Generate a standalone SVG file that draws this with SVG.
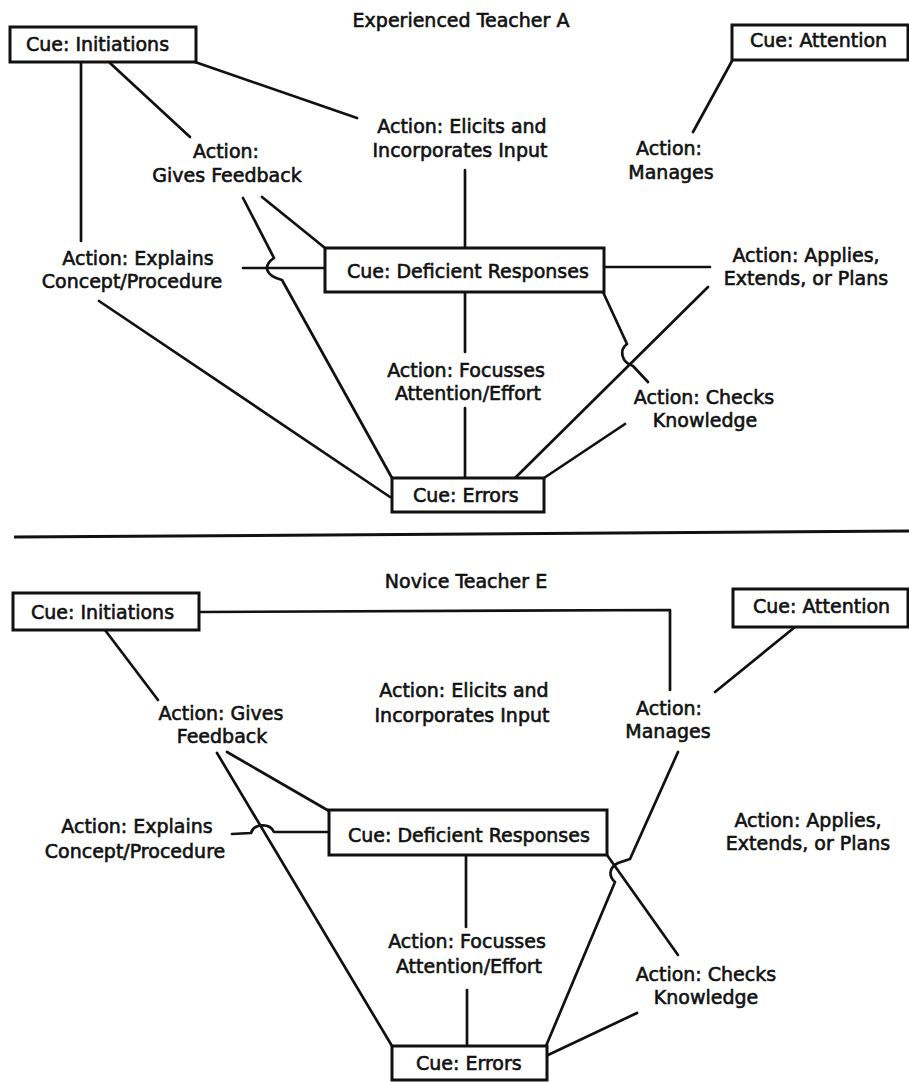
<svg xmlns="http://www.w3.org/2000/svg" width="909" height="1082" viewBox="0 0 909 1082">
<style>
.t{font-family:"DejaVu Sans","Liberation Sans",sans-serif;font-size:19px;fill:#111;stroke:#111;stroke-width:0.6}
.m{text-anchor:middle}
.box{fill:#fff;stroke:#111;stroke-width:3}
.ln{fill:none;stroke:#111;stroke-width:2.7;stroke-linejoin:round;stroke-linecap:round}
</style>
<rect width="909" height="1082" fill="#fff"/>

<!-- ===== Top panel: Experienced Teacher A ===== -->
<g id="connectors-top">
<path class="ln" d="M195,62 L357,118"/>
<path class="ln" d="M110,63 L190,137"/>
<path class="ln" d="M81,62 L81,241"/>
<path class="ln" d="M465,170 L465,248"/>
<path class="ln" d="M732,61 L693,132"/>
<path class="ln" d="M262,197 L325,248"/>
<path class="ln" d="M243,198 L274,258 C262,266 266,276 282,280 L392,478"/>
<path class="ln" d="M243,268 L325,268"/>
<path class="ln" d="M604,267 L710,267"/>
<path class="ln" d="M99,301 L390,497"/>
<path class="ln" d="M465,292 L465,352"/>
<path class="ln" d="M465,408 L465,478"/>
<path class="ln" d="M603,292 L627,344 C619,350 621,362 633,366 L648,382"/>
<path class="ln" d="M708,287 L515,478"/>
<path class="ln" d="M625,424 L544,478"/>
</g>

<g id="title-top"><text class="t m" x="461" y="27">Experienced Teacher A</text></g>
<g id="cue-initiations-top"><rect class="box" x="10" y="27" width="186" height="35"/><text class="t" x="26" y="51">Cue: Initiations</text></g>
<g id="cue-attention-top"><rect class="box" x="732" y="25" width="176" height="35"/><text class="t" x="750" y="47">Cue: Attention</text></g>
<g id="action-elicits-top"><text class="t m" x="462" y="133">Action: Elicits and</text><text class="t m" x="460" y="157">Incorporates Input</text></g>
<g id="action-feedback-top"><text class="t m" x="226" y="158">Action:</text><text class="t m" x="227" y="182">Gives Feedback</text></g>
<g id="action-manages-top"><text class="t m" x="669" y="155">Action:</text><text class="t m" x="671" y="179">Manages</text></g>
<g id="action-explains-top"><text class="t m" x="138" y="265">Action: Explains</text><text class="t m" x="132" y="288">Concept/Procedure</text></g>
<g id="cue-deficient-top"><rect class="box" x="325" y="248" width="279" height="44"/><text class="t" x="347" y="278">Cue: Deficient Responses</text></g>
<g id="action-applies-top"><text class="t m" x="806" y="262">Action: Applies,</text><text class="t m" x="806" y="285">Extends, or Plans</text></g>
<g id="action-focusses-top"><text class="t m" x="466" y="377">Action: Focusses</text><text class="t m" x="468" y="400">Attention/Effort</text></g>
<g id="action-checks-top"><text class="t m" x="704" y="404">Action: Checks</text><text class="t m" x="705" y="427">Knowledge</text></g>
<g id="cue-errors-top"><rect class="box" x="392" y="478" width="152" height="34"/><text class="t" x="413" y="502">Cue: Errors</text></g>

<g id="separator"><path d="M14,537 L909,531" fill="none" stroke="#111" stroke-width="3"/></g>

<!-- ===== Bottom panel: Novice Teacher E ===== -->
<g id="connectors-bottom">
<path class="ln" d="M199,612 L670,610 L670,690"/>
<path class="ln" d="M105,630 L158,700"/>
<path class="ln" d="M795,627 L715,692"/>
<path class="ln" d="M227,752 L329,811"/>
<path class="ln" d="M217,753 L392,1046"/>
<path class="ln" d="M232,834 L251,833 C254,823 270,823 274,832 L329,832"/>
<path class="ln" d="M466,855 L466,927"/>
<path class="ln" d="M467,990 L467,1046"/>
<path class="ln" d="M678,752 L630,859 L618,863 C608,868 609,877 615,882 L546,1046"/>
<path class="ln" d="M607,855 L678,955"/>
<path class="ln" d="M637,1013 L548,1055"/>
</g>

<g id="title-bottom"><text class="t m" x="466" y="588">Novice Teacher E</text></g>
<g id="cue-initiations-bottom"><rect class="box" x="13" y="593" width="186" height="37"/><text class="t" x="31" y="619">Cue: Initiations</text></g>
<g id="cue-attention-bottom"><rect class="box" x="733" y="589" width="175" height="38"/><text class="t" x="753" y="613">Cue: Attention</text></g>
<g id="action-elicits-bottom"><text class="t m" x="464" y="697">Action: Elicits and</text><text class="t m" x="462" y="722">Incorporates Input</text></g>
<g id="action-feedback-bottom"><text class="t m" x="221" y="720">Action: Gives</text><text class="t m" x="222" y="743">Feedback</text></g>
<g id="action-manages-bottom"><text class="t m" x="669" y="715">Action:</text><text class="t m" x="668" y="738">Manages</text></g>
<g id="action-explains-bottom"><text class="t m" x="137" y="833">Action: Explains</text><text class="t m" x="135" y="858">Concept/Procedure</text></g>
<g id="cue-deficient-bottom"><rect class="box" x="329" y="810" width="278" height="45"/><text class="t" x="348" y="842">Cue: Deficient Responses</text></g>
<g id="action-applies-bottom"><text class="t m" x="808" y="827">Action: Applies,</text><text class="t m" x="808" y="850">Extends, or Plans</text></g>
<g id="action-focusses-bottom"><text class="t m" x="467" y="948">Action: Focusses</text><text class="t m" x="469" y="973">Attention/Effort</text></g>
<g id="action-checks-bottom"><text class="t m" x="706" y="981">Action: Checks</text><text class="t m" x="706" y="1004">Knowledge</text></g>
<g id="cue-errors-bottom"><rect class="box" x="392" y="1046" width="155" height="34"/><text class="t" x="416" y="1070">Cue: Errors</text></g>
</svg>
